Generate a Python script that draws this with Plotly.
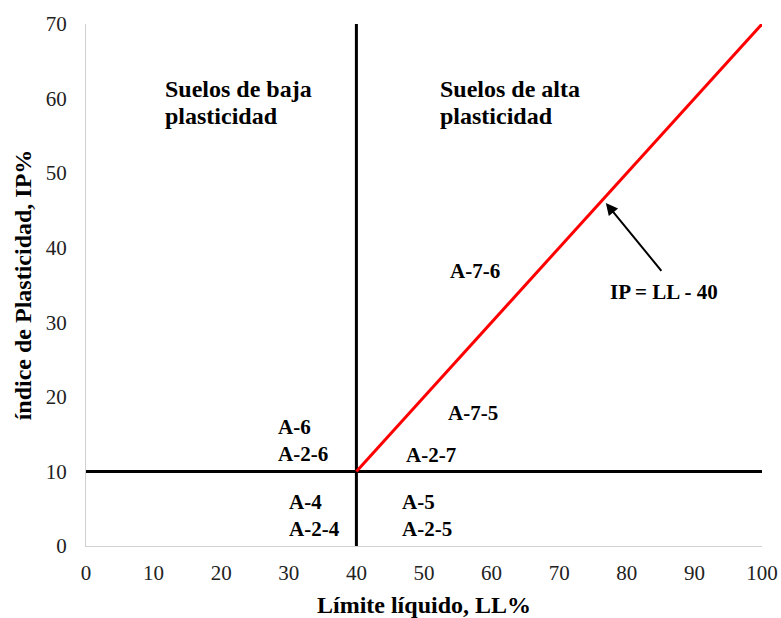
import plotly.graph_objects as go

# Data
ll_limit = 40
ip_limit = 10
x_range = [0, 100]
y_range = [0, 70]
line_ll = [40, 100]
line_ip = [10, 70]
x_ticks = [0, 10, 20, 30, 40, 50, 60, 70, 80, 90, 100]
y_ticks = [0, 10, 20, 30, 40, 50, 60, 70]

region_lines = ["Suelos de baja", "plasticidad", "Suelos de alta", "plasticidad"]
region_x = [11.4, 11.4, 52.0, 52.0]
region_y = [61.3, 57.7, 61.3, 57.7]

zone_labels = ["A-7-6", "A-7-5", "A-6<br>A-2-6", "A-2-7", "A-4<br>A-2-4", "A-5<br>A-2-5"]
zone_x = [57.6, 57.2, 28.1, 51.0, 29.8, 46.4]
zone_y = [36.9, 17.8, 14.2, 12.2, 4.1, 4.1]
zone_anchor = ["center", "center", "left", "center", "left", "left"]

eq_label = "IP = LL - 40"
eq_xy = [85.5, 34.0]
arrow_head = [76.9, 46.0]
arrow_tail = [85.3, 36.7]

FONT = "Liberation Serif"

fig = go.Figure()
fig.add_trace(go.Scatter(x=x_range, y=[ip_limit, ip_limit], mode="lines",
                         line=dict(color="black", width=3), showlegend=False, hoverinfo="skip"))
fig.add_trace(go.Scatter(x=[ll_limit, ll_limit], y=y_range, mode="lines",
                         line=dict(color="black", width=3), showlegend=False, hoverinfo="skip"))
fig.add_trace(go.Scatter(x=line_ll, y=line_ip, mode="lines",
                         line=dict(color="#ff0000", width=3), showlegend=False, hoverinfo="skip"))

for t, x, y in zip(region_lines, region_x, region_y):
    fig.add_annotation(x=x, y=y, text="<b>%s</b>" % t, showarrow=False, xanchor="left",
                       yanchor="middle", font=dict(family=FONT, size=24, color="black"))

for t, x, y, a in zip(zone_labels, zone_x, zone_y, zone_anchor):
    fig.add_annotation(x=x, y=y, text="<b>%s</b>" % t, showarrow=False, xanchor=a,
                       yanchor="middle", align="left",
                       font=dict(family=FONT, size=21, color="black"))

fig.add_annotation(x=eq_xy[0], y=eq_xy[1], text="<b>%s</b>" % eq_label, showarrow=False,
                   font=dict(family=FONT, size=21, color="black"))
fig.add_annotation(x=arrow_head[0], y=arrow_head[1], ax=arrow_tail[0], ay=arrow_tail[1],
                   axref="x", ayref="y", xref="x", yref="y", text="", showarrow=True,
                   arrowhead=2, arrowsize=1.2, arrowwidth=2, arrowcolor="black")

fig.update_layout(
    width=781, height=618,
    margin=dict(l=86, r=19, t=24, b=72, autoexpand=False),
    paper_bgcolor="white", plot_bgcolor="white",
    font=dict(family=FONT, size=21, color="#222"),
    xaxis=dict(range=x_range, tickvals=x_ticks, showgrid=False, zeroline=False,
               showline=True, linecolor="#d0d0d0", linewidth=1, ticks="",
               ticklabelstandoff=8, automargin=False,
               title=dict(text="<b>Límite líquido, LL%</b>", font=dict(family=FONT, size=24, color="black"),
                          standoff=11)),
    yaxis=dict(range=y_range, tickvals=y_ticks, showgrid=False, zeroline=False,
               showline=True, linecolor="#d0d0d0", linewidth=1, ticks="",
               ticklabelstandoff=14, automargin=False,
               title=dict(text="<b>índice de Plasticidad, IP%</b>", font=dict(family=FONT, size=24, color="black"),
                          standoff=7)),
)

fig.write_html("out.html", config={"displayModeBar": False},
               post_script="document.body.style.margin='0';document.body.style.overflow='hidden';")
